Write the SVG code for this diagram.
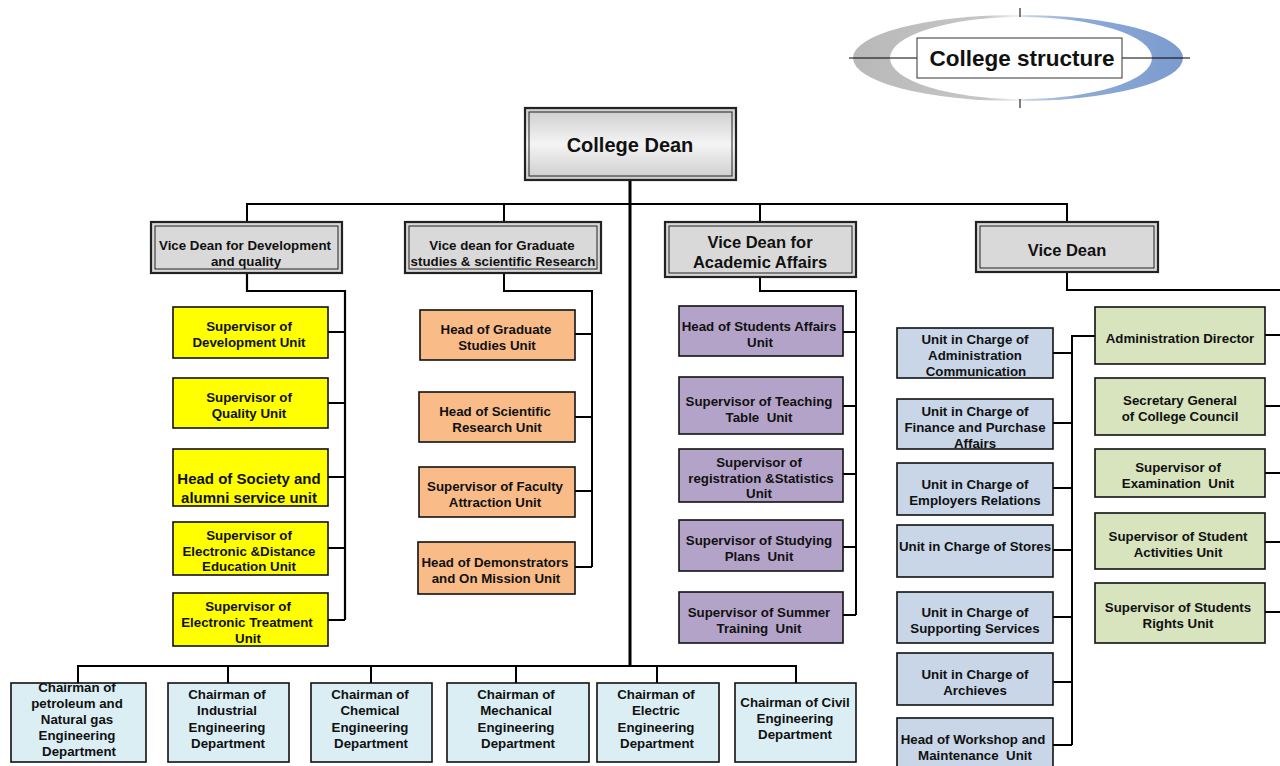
<svg xmlns="http://www.w3.org/2000/svg" width="1280" height="766" viewBox="0 0 1280 766">
<defs>
<linearGradient id="ring" x1="0" y1="0" x2="1" y2="0">
<stop offset="0" stop-color="#b8b8b8"/>
<stop offset="0.4" stop-color="#c6c6c6"/>
<stop offset="0.5" stop-color="#f2f2f2"/>
<stop offset="0.53" stop-color="#c4d3ea"/>
<stop offset="0.68" stop-color="#8eaad6"/>
<stop offset="1" stop-color="#7b9bcf"/>
</linearGradient>
<linearGradient id="dean" x1="0" y1="0" x2="0" y2="1">
<stop offset="0" stop-color="#cccccc"/>
<stop offset="0.5" stop-color="#f4f4f4"/>
<stop offset="1" stop-color="#cccccc"/>
</linearGradient>
<style>
text{font-family:"Liberation Sans",Arial,sans-serif;font-weight:bold;fill:#111;text-anchor:middle;white-space:pre}
.t{font-size:13.3px}
.b{stroke:#111;stroke-width:1.6}
.y{fill:#ffff00}
.o{fill:#f9bc88}
.p{fill:#b4a3c8}
.u{fill:#c8d6e7}
.g{fill:#d7e4bd}
.c{fill:#dbeef4}
.vd{fill:#d9d9d9;stroke:#222;stroke-width:2.2}
.vdi{fill:none;stroke:#222;stroke-width:1}
.ln{fill:none;stroke:#000;stroke-width:2}
</style>
</defs>

<g id="title">
<ellipse cx="1018" cy="58" rx="165" ry="43" fill="url(#ring)"/>
<ellipse cx="1021" cy="58" rx="131" ry="41" fill="#fff"/>
<path d="M849 58H1190M1020 8V17M1020 99V108" stroke="#000" stroke-width="1"/>
<rect x="917" y="38" width="205" height="40" fill="#fff" stroke="#333" stroke-width="1"/>
<text x="1022" y="66" style="font-size:22.5px">College structure</text>
</g>

<g id="connectors">
<path class="ln" d="M630 180V665" style="stroke-width:3"/>
<path class="ln" d="M247 222V204H1067V222M504 204V222M760 204V222"/>
<path class="ln" d="M247 273V291H345V620M328 332H345M328 403H345M328 477H345M328 548H345M328 620H345" style="stroke-width:2.2"/>
<path class="ln" d="M504 273V291H592V567M575 334H592M575 417H592M575 491H592M575 567H592"/>
<path class="ln" d="M760 277V291H856V615M843 332H856M843 406H856M843 474H856M843 547H856M843 615H856"/>
<path class="ln" d="M1067 272V290H1280"/>
<path class="ln" d="M1095 336H1072V745M1053 353H1072M1053 423H1072M1053 488H1072M1053 550H1072M1053 617H1072M1053 682H1072M1053 745H1072"/>
<path class="ln" d="M1265 335H1280M1265 406H1280M1265 473H1280M1265 542H1280M1265 612H1280"/>
<path class="ln" d="M78 683V666H796V683M228 666V683M371 666V683M516 666V683M657 666V683"/>
</g>

<g id="college-dean">
<rect x="525" y="108" width="211" height="72" fill="url(#dean)" stroke="#222" stroke-width="2.2"/>
<rect x="529" y="112" width="203" height="64" fill="none" stroke="#222" stroke-width="1"/>
<text x="630" y="152" style="font-size:20px">College Dean</text>
</g>

<g id="vd-development">
<rect class="vd" x="151" y="222" width="191" height="51"/>
<rect class="vdi" x="155" y="226" width="183" height="43"/>
<text class="t" x="245" y="250">Vice Dean for Development</text>
<text class="t" x="246" y="266">and quality</text>
</g>
<g id="vd-graduate">
<rect class="vd" x="405" y="222" width="196" height="51"/>
<rect class="vdi" x="409" y="226" width="188" height="43"/>
<text class="t" x="502" y="250">Vice dean for Graduate</text>
<text class="t" x="503" y="266">studies &amp; scientific Research</text>
</g>
<g id="vd-academic">
<rect class="vd" x="665" y="222" width="191" height="55"/>
<rect class="vdi" x="669" y="226" width="183" height="47"/>
<text x="760" y="248" style="font-size:16.5px">Vice Dean for</text>
<text x="760" y="268" style="font-size:16.5px">Academic Affairs</text>
</g>
<g id="vice-dean">
<rect class="vd" x="976" y="222" width="182" height="50"/>
<rect class="vdi" x="980" y="226" width="174" height="42"/>
<text x="1067" y="256" style="font-size:16.5px">Vice Dean</text>
</g>

<g id="y1"><rect class="b y" x="173" y="307" width="155" height="51"/><text class="t" x="249" y="331">Supervisor of</text><text class="t" x="249" y="347">Development Unit</text></g>
<g id="y2"><rect class="b y" x="173" y="378" width="155" height="50"/><text class="t" x="249" y="402">Supervisor of</text><text class="t" x="249" y="418">Quality Unit</text></g>
<g id="y3"><rect class="b y" x="173" y="449" width="155" height="57"/><text x="249" y="484" style="font-size:15px">Head of Society and</text><text x="249" y="503" style="font-size:15px">alumni service unit</text></g>
<g id="y4"><rect class="b y" x="173" y="522" width="155" height="53"/><text class="t" x="249" y="540">Supervisor of</text><text class="t" x="249" y="556">Electronic &amp;Distance</text><text class="t" x="249" y="571">Education Unit</text></g>
<g id="y5"><rect class="b y" x="173" y="593" width="155" height="53"/><text class="t" x="248" y="611">Supervisor of</text><text class="t" x="247" y="627">Electronic Treatment</text><text class="t" x="248" y="643">Unit</text></g>

<g id="o1"><rect class="b o" x="420" y="310" width="155" height="50"/><text class="t" x="496" y="334">Head of Graduate</text><text class="t" x="497" y="350">Studies Unit</text></g>
<g id="o2"><rect class="b o" x="419" y="392" width="156" height="50"/><text class="t" x="495" y="416">Head of Scientific</text><text class="t" x="497" y="432">Research Unit</text></g>
<g id="o3"><rect class="b o" x="419" y="467" width="156" height="50"/><text class="t" x="495" y="491">Supervisor of Faculty</text><text class="t" x="495" y="507">Attraction Unit</text></g>
<g id="o4"><rect class="b o" x="418" y="542" width="157" height="52"/><text class="t" x="495" y="567">Head of Demonstrators</text><text class="t" x="496" y="583">and On Mission Unit</text></g>

<g id="p1"><rect class="b p" x="679" y="306" width="164" height="50"/><text class="t" x="759" y="331">Head of Students Affairs</text><text class="t" x="760" y="347">Unit</text></g>
<g id="p2"><rect class="b p" x="679" y="377" width="164" height="57"/><text class="t" x="759" y="406">Supervisor of Teaching</text><text class="t" x="759" y="422">Table  Unit</text></g>
<g id="p3"><rect class="b p" x="679" y="449" width="164" height="53"/><text class="t" x="759" y="467">Supervisor of</text><text class="t" x="761" y="483">registration &amp;Statistics</text><text class="t" x="759" y="498">Unit</text></g>
<g id="p4"><rect class="b p" x="679" y="520" width="164" height="51"/><text class="t" x="759" y="545">Supervisor of Studying</text><text class="t" x="759" y="561">Plans  Unit</text></g>
<g id="p5"><rect class="b p" x="679" y="592" width="164" height="51"/><text class="t" x="759" y="617">Supervisor of Summer</text><text class="t" x="759" y="633">Training  Unit</text></g>

<g id="u1"><rect class="b u" x="897" y="328" width="156" height="50"/><text class="t" x="975" y="344">Unit in Charge of</text><text class="t" x="975" y="360">Administration</text><text class="t" x="976" y="376">Communication</text></g>
<g id="u2"><rect class="b u" x="897" y="399" width="156" height="50"/><text class="t" x="975" y="416">Unit in Charge of</text><text class="t" x="975" y="432">Finance and Purchase</text><text class="t" x="975" y="448">Affairs</text></g>
<g id="u3"><rect class="b u" x="897" y="463" width="156" height="52"/><text class="t" x="975" y="489">Unit in Charge of</text><text class="t" x="975" y="505">Employers Relations</text></g>
<g id="u4"><rect class="b u" x="897" y="525" width="156" height="52"/><text class="t" x="975" y="551">Unit in Charge of Stores</text></g>
<g id="u5"><rect class="b u" x="897" y="592" width="156" height="51"/><text class="t" x="975" y="617">Unit in Charge of</text><text class="t" x="975" y="633">Supporting Services</text></g>
<g id="u6"><rect class="b u" x="897" y="653" width="156" height="52"/><text class="t" x="975" y="679">Unit in Charge of</text><text class="t" x="975" y="695">Archieves</text></g>
<g id="u7"><rect class="b u" x="897" y="718" width="156" height="56"/><text class="t" x="973" y="744">Head of Workshop and</text><text class="t" x="975" y="760">Maintenance  Unit</text></g>

<g id="g1"><rect class="b g" x="1095" y="307" width="170" height="57"/><text class="t" x="1180" y="343">Administration Director</text></g>
<g id="g2"><rect class="b g" x="1095" y="378" width="170" height="57"/><text class="t" x="1180" y="405">Secretary General</text><text class="t" x="1180" y="421">of College Council</text></g>
<g id="g3"><rect class="b g" x="1095" y="449" width="170" height="48"/><text class="t" x="1178" y="472">Supervisor of</text><text class="t" x="1178" y="488">Examination  Unit</text></g>
<g id="g4"><rect class="b g" x="1095" y="513" width="170" height="56"/><text class="t" x="1178" y="541">Supervisor of Student</text><text class="t" x="1178" y="557">Activities Unit</text></g>
<g id="g5"><rect class="b g" x="1095" y="583" width="170" height="60"/><text class="t" x="1178" y="612">Supervisor of Students</text><text class="t" x="1178" y="628">Rights Unit</text></g>

<g id="c1"><rect class="b c" x="11" y="683" width="135" height="79"/><text class="t" x="77" y="692">Chairman of</text><text class="t" x="77" y="708">petroleum and</text><text class="t" x="77" y="724">Natural gas</text><text class="t" x="77" y="740">Engineering</text><text class="t" x="79" y="756">Department</text></g>
<g id="c2"><rect class="b c" x="168" y="683" width="121" height="79"/><text class="t" x="227" y="699">Chairman of</text><text class="t" x="227" y="715">Industrial</text><text class="t" x="227" y="732">Engineering</text><text class="t" x="228" y="748">Department</text></g>
<g id="c3"><rect class="b c" x="311" y="683" width="121" height="79"/><text class="t" x="370" y="699">Chairman of</text><text class="t" x="370" y="715">Chemical</text><text class="t" x="370" y="732">Engineering</text><text class="t" x="371" y="748">Department</text></g>
<g id="c4"><rect class="b c" x="447" y="683" width="142" height="79"/><text class="t" x="516" y="699">Chairman of</text><text class="t" x="516" y="715">Mechanical</text><text class="t" x="516" y="732">Engineering</text><text class="t" x="518" y="748">Department</text></g>
<g id="c5"><rect class="b c" x="597" y="683" width="122" height="79"/><text class="t" x="656" y="699">Chairman of</text><text class="t" x="656" y="715">Electric</text><text class="t" x="656" y="732">Engineering</text><text class="t" x="657" y="748">Department</text></g>
<g id="c6"><rect class="b c" x="735" y="683" width="121" height="79"/><text class="t" x="795" y="707">Chairman of Civil</text><text class="t" x="795" y="723">Engineering</text><text class="t" x="795" y="739">Department</text></g>
</svg>
